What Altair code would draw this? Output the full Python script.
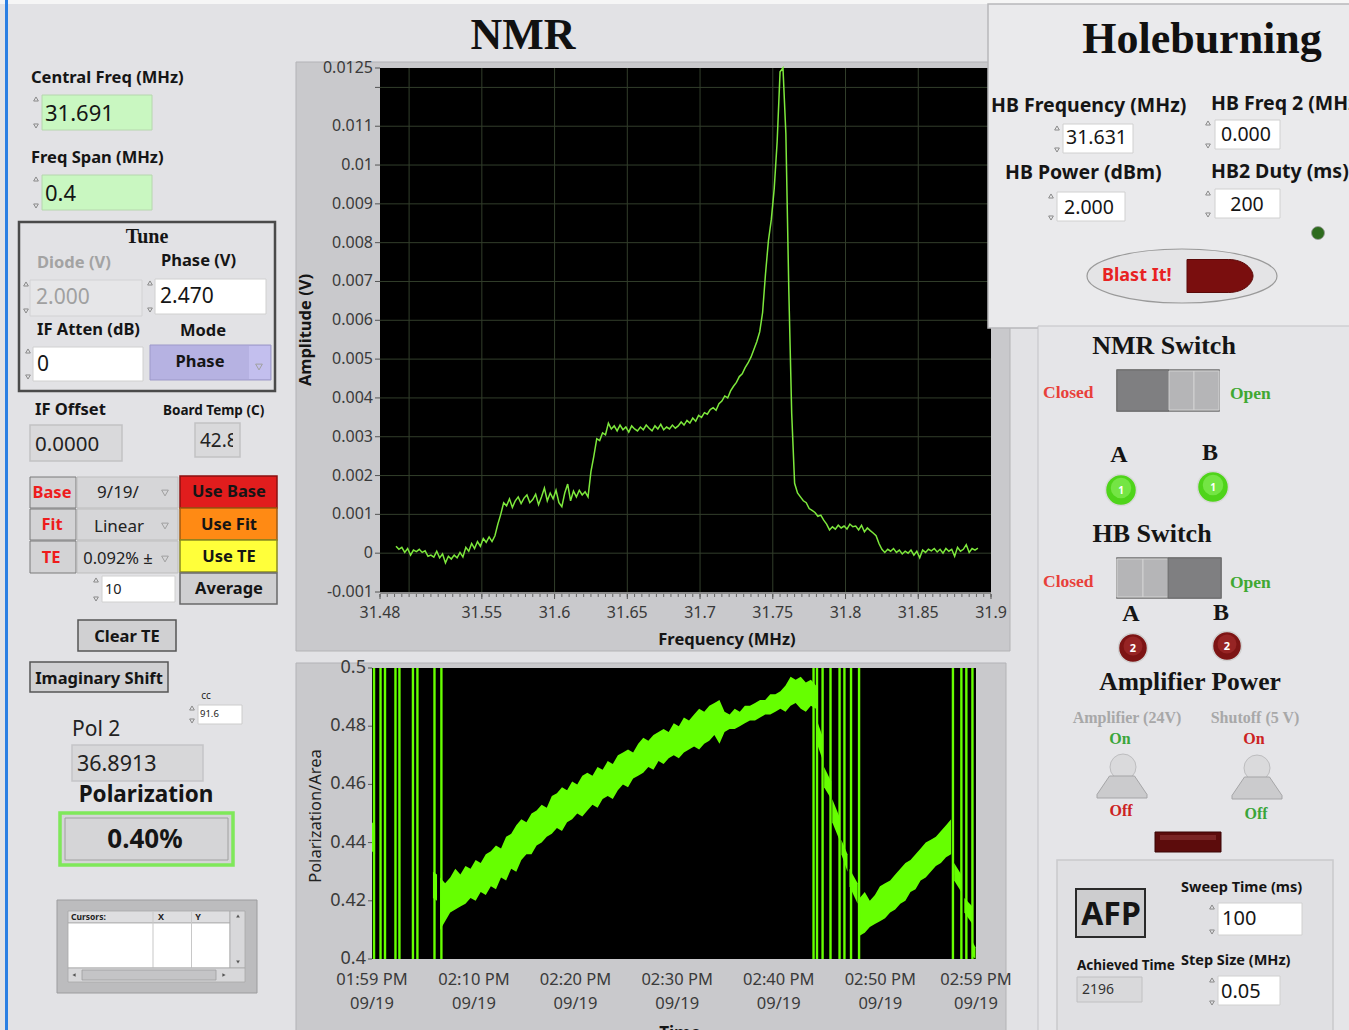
import altair as alt
import numpy as np
import pandas as pd

W, H = 1349, 1030
SANS = "Noto Sans"
SERIF = "Liberation Serif"
GRID = "#323e2b"
NMR_GREEN = "#7de83c"
POL_GREEN = "#66ff00"

# --------------------------------------------------------------------------
# NMR sweep: lock-in amplitude in mV, one reading every 2 kHz across the span
CENTER_FREQ_MHZ = 31.691
FREQ_SPAN_MHZ = 0.4
nmr_amplitude_mv = [
    0.18, 0.10, 0.15, 0.02, 0.12, -0.05, 0.08, 0.04, 0.10, 0.02,
    0.06, -0.08, -0.05, -0.10, 0.05, -0.12, -0.02, -0.25, -0.08, -0.15,
    -0.05, -0.12, 0.02, -0.10, 0.15, 0.05, 0.25, 0.12, 0.30, 0.18,
    0.38, 0.28, 0.42, 0.30, 0.45, 0.75, 1.00, 1.30, 1.22, 1.40,
    1.18, 1.35, 1.45, 1.28, 1.42, 1.50, 1.30, 1.38, 1.52, 1.25,
    1.45, 1.68, 1.35, 1.55, 1.40, 1.62, 1.30, 1.20, 1.55, 1.78,
    1.35, 1.60, 1.45, 1.62, 1.50, 1.58, 1.45, 2.10, 2.50, 2.95,
    2.90, 3.10, 3.05, 3.35, 3.20, 3.28, 3.15, 3.30, 3.18, 3.25,
    3.12, 3.28, 3.20, 3.15, 3.25, 3.18, 3.30, 3.22, 3.15, 3.28,
    3.20, 3.32, 3.18, 3.25, 3.20, 3.30, 3.22, 3.28, 3.38, 3.30,
    3.42, 3.35, 3.48, 3.40, 3.55, 3.50, 3.62, 3.58, 3.70, 3.75,
    3.68, 3.85, 3.92, 4.05, 4.00, 4.18, 4.30, 4.40, 4.55, 4.62,
    4.78, 4.90, 5.05, 5.25, 5.45, 5.70, 6.20, 7.20, 8.05, 8.60,
    9.40, 10.60, 12.40, 15.00, 10.80, 6.80, 3.60, 1.80, 1.55, 1.45,
    1.35, 1.30, 1.15, 1.10, 1.05, 0.95, 0.98, 0.85, 0.75, 0.60,
    0.68, 0.62, 0.72, 0.65, 0.70, 0.62, 0.75, 0.68, 0.70, 0.60,
    0.72, 0.55, 0.65, 0.58, 0.52, 0.45, 0.25, 0.10, 0.02, 0.10,
    0.05, 0.12, 0.02, 0.08, -0.02, 0.05, 0.00, 0.08, -0.05, 0.05,
    -0.12, 0.08, 0.02, 0.10, 0.06, 0.12, 0.03, 0.10, 0.00, 0.12,
    0.05, 0.10, -0.08, 0.15, 0.05, 0.10, 0.22, 0.02, 0.12, 0.08,
    0.13,
]
nmr_freq_ticks = [31.48, 31.55, 31.6, 31.65, 31.7, 31.75, 31.8, 31.85, 31.9]
nmr_freq_labels = ["31.48", "31.55", "31.6", "31.65", "31.7", "31.75", "31.8", "31.85", "31.9"]
nmr_freq_grid = [31.5, 31.55, 31.6, 31.65, 31.7, 31.75, 31.8, 31.85]
nmr_amp_ticks = [0.0125, 0.012, 0.011, 0.01, 0.009, 0.008, 0.007, 0.006, 0.005,
                 0.004, 0.003, 0.002, 0.001, 0.0, -0.001]
nmr_amp_labels = ["0.0125", "", "0.011", "0.01", "0.009", "0.008", "0.007", "0.006",
                  "0.005", "0.004", "0.003", "0.002", "0.001", "0", "-0.001"]
nmr_amp_grid = [0.0, 0.001, 0.002, 0.003, 0.004, 0.005, 0.006, 0.007, 0.008,
                0.009, 0.01, 0.011, 0.012]

# --------------------------------------------------------------------------
# Polarization history, minutes elapsed since the run started
RUN_START = "13:59:58"
run1_start_min, run1_step_min = 6.7, 0.5
pol_run1_lo = [
    0.410, 0.413, 0.416, 0.417, 0.418, 0.419, 0.421, 0.420, 0.423, 0.422,
    0.425, 0.424, 0.428, 0.427, 0.431, 0.430, 0.434, 0.436, 0.436, 0.439,
    0.440, 0.442, 0.443, 0.445, 0.444, 0.447, 0.448, 0.450, 0.449, 0.451,
    0.453, 0.452, 0.455, 0.456, 0.455, 0.458, 0.460, 0.459, 0.462, 0.463,
    0.464, 0.466, 0.465, 0.468, 0.467, 0.469, 0.470, 0.469, 0.471, 0.472,
    0.473, 0.472, 0.474, 0.475, 0.477, 0.474, 0.478, 0.479, 0.479, 0.480,
    0.481, 0.482, 0.482, 0.483, 0.484, 0.484, 0.485, 0.486, 0.485, 0.487,
    0.488, 0.486, 0.485, 0.487, 0.486,
]
pol_run1_hi = [
    0.428, 0.426, 0.428, 0.431, 0.429, 0.432, 0.431, 0.434, 0.433, 0.436,
    0.437, 0.439, 0.438, 0.442, 0.443, 0.446, 0.448, 0.447, 0.450, 0.451,
    0.453, 0.452, 0.456, 0.457, 0.459, 0.458, 0.461, 0.460, 0.463, 0.464,
    0.463, 0.466, 0.465, 0.468, 0.467, 0.470, 0.471, 0.472, 0.471, 0.474,
    0.476, 0.475, 0.477, 0.478, 0.479, 0.478, 0.481, 0.480, 0.483, 0.482,
    0.484, 0.486, 0.485, 0.487, 0.488, 0.489, 0.485, 0.484, 0.486, 0.485,
    0.487, 0.487, 0.488, 0.489, 0.489, 0.491, 0.491, 0.492, 0.494, 0.497,
    0.496, 0.497, 0.495, 0.496, 0.494,
]
run2_start_min, run2_step_min = 48.0, 0.5
pol_run2_lo = [0.408, 0.409, 0.411, 0.412, 0.413, 0.414, 0.416, 0.417, 0.419, 0.420,
               0.423, 0.424, 0.427, 0.428, 0.430, 0.432, 0.433, 0.435, 0.436]
pol_run2_hi = [0.421, 0.423, 0.420, 0.422, 0.425, 0.426, 0.427, 0.429, 0.431, 0.433,
               0.434, 0.436, 0.438, 0.440, 0.441, 0.442, 0.444, 0.446, 0.448]
# short stretches between dropouts: (stretch, minute, low, high)
pol_fragments = [
    ("a", 0.0, 0.437, 0.447), ("a", 0.3, 0.436, 0.446),
    ("b", 6.0, 0.421, 0.430), ("b", 6.4, 0.420, 0.429),
    ("c", 43.8, 0.474, 0.482), ("c", 44.3, 0.469, 0.477),
    ("d", 44.5, 0.459, 0.466), ("d", 45.2, 0.455, 0.461),
    ("e", 45.3, 0.447, 0.455), ("e", 46.0, 0.441, 0.449),
    ("f", 46.2, 0.436, 0.441), ("f", 46.8, 0.430, 0.436),
    ("g", 47.0, 0.425, 0.431), ("g", 47.8, 0.419, 0.426),
    ("h", 57.3, 0.427, 0.433), ("h", 58.0, 0.423, 0.429),
    ("i", 58.3, 0.416, 0.421), ("i", 59.1, 0.412, 0.418),
    ("j", 59.1, 0.401, 0.406), ("j", 59.4, 0.400, 0.404),
]
# readings that dropped off scale (full-height spikes)
pol_dropouts_min = [0.2, 0.84, 1.28, 2.31, 2.70, 4.03, 4.47, 6.15, 6.83,
                    43.46, 43.8, 44.35, 45.13, 46.02, 46.5, 47.15, 47.94,
                    57.18, 58.01, 58.5, 59.1]
pol_tick_clock = ["13:59:58", "14:10:00", "14:20:00", "14:30:00", "14:40:00", "14:50:00", "14:59:25"]
pol_tick_time_labels = ["01:59 PM", "02:10 PM", "02:20 PM", "02:30 PM", "02:40 PM", "02:50 PM", "02:59 PM"]
pol_tick_date_labels = ["09/19"] * 7
pol_val_ticks = [0.5, 0.48, 0.46, 0.44, 0.42, 0.4]
pol_val_labels = ["0.5", "0.48", "0.46", "0.44", "0.42", "0.4"]


def clock_to_min(hms):
    h, m, s = (int(v) for v in hms.split(":"))
    h0, m0, s0 = (int(v) for v in RUN_START.split(":"))
    return ((h * 3600 + m * 60 + s) - (h0 * 3600 + m0 * 60 + s0)) / 60.0


# --------------------------------------------------------------------------
# scales: each plot maps its data onto its own pixel window of the panel
nmr_x = alt.Scale(domain=[31.48, 31.9], range=[380, 991], zero=False, nice=False)
nmr_y = alt.Scale(domain=[-0.001, 0.0125], range=[592, 68], zero=False, nice=False, clamp=True)
pol_x = alt.Scale(domain=[0, clock_to_min(pol_tick_clock[-1])], range=[372, 976], zero=False, nice=False)
pol_y = alt.Scale(domain=[0.4, 0.5], range=[959, 668], zero=False, nice=False)


def PX(f):
    return alt.X(f"{f}:Q", scale=None, axis=None)


def PY(f):
    return alt.Y(f"{f}:Q", scale=None, axis=None)


def rect_layer(rows):
    df = pd.DataFrame(rows, columns=["x", "x2", "y", "y2", "fill", "stroke", "sw"])
    return alt.Chart(df).mark_rect().encode(
        x=PX("x"), x2="x2:Q", y=PY("y"), y2="y2:Q",
        fill=alt.Fill("fill:N", scale=None, legend=None),
        stroke=alt.Stroke("stroke:N", scale=None, legend=None),
        strokeWidth=alt.StrokeWidth("sw:Q", scale=None, legend=None),
    )


N = "transparent"
frame_rects = [
    (0, W, 0, 4, "#f6f6f6", N, 0),
    (5, 8, 0, H, "#2b7fe3", N, 0),
    (296, 1010, 62, 651, "#c9c9cc", "#b3b3b6", 1),
    (296, 1006, 663, 1031, "#c9c9cc", "#b3b3b6", 1),
    (380, 991, 68, 592, "#000000", N, 0),
    (372, 976, 668, 959, "#000000", N, 0),
    (380, 991, 592, 594, "#8a8a8a", N, 0),
]

panel_rects = [
    # right-hand panels
    (988, W + 2, 4, 328, "#eaeaec", "#b8b8bb", 1.5),
    (1038, W + 2, 326, H + 2, "#e5e5e8", "#c3c3c6", 1),
    (1057, 1333, 860, H + 2, "#e0e0e3", "#c9c9cc", 1.5),
    # left controls
    (42, 152, 95, 130, "#c9f7c1", "#b6d6ae", 1),
    (42, 152, 175, 210, "#c9f7c1", "#b6d6ae", 1),
    (19, 275, 222, 391, N, "#4a4a4a", 2.5),
    (30, 142, 280, 316, "#e6e6e8", "#d2d2d4", 1),
    (155, 266, 279, 314, "#ffffff", "#d0d0d0", 1),
    (33, 143, 347, 381, "#ffffff", "#d0d0d0", 1),
    (150, 271, 345, 380, "#b6b2e2", "#9d99c9", 1),
    (249, 270, 346, 379, "#c3bfee", N, 0),
    (30, 122, 425, 461, "#d9d9db", "#c2c2c4", 1.5),
    (195, 240, 423, 457, "#d9d9db", "#c2c2c4", 1.5),
    (30, 76, 477, 508, "#d3d3d5", "#7a7a7a", 1),
    (77, 178, 477, 508, "#d6d6d8", "#bdbdbd", 1),
    (180, 277, 476, 508, "#e11d1d", "#8a1010", 1.5),
    (30, 76, 509, 540, "#d3d3d5", "#7a7a7a", 1),
    (77, 178, 509, 540, "#d6d6d8", "#bdbdbd", 1),
    (180, 277, 508, 540, "#ff8a14", "#a05a10", 1.5),
    (30, 76, 541, 573, "#d3d3d5", "#7a7a7a", 1),
    (77, 178, 541, 573, "#d6d6d8", "#bdbdbd", 1),
    (180, 277, 540, 572, "#ffff3a", "#8a8a20", 1.5),
    (102, 175, 576, 602, "#ffffff", "#d0d0d0", 1),
    (180, 277, 573, 604, "#cfcfd1", "#6a6a6a", 1.5),
    (78, 176, 620, 651, "#d0d0d2", "#555555", 1.5),
    (30, 168, 662, 692, "#d0d0d2", "#555555", 1.5),
    (198, 242, 705, 724, "#ffffff", "#cccccc", 1),
    (72, 203, 745, 781, "#d7d7d9", "#c5c5c7", 1.5),
    (60, 233, 813, 865, "#d5d5d7", "#7fe85a", 3.5),
    (65, 228, 818, 860, "#d5d5d7", "#a0a0a0", 1),
    (57, 257, 900, 993, "#bcbcbe", "#9c9c9e", 1),
    (68, 230, 911, 923, "#dedee0", "#a8a8a8", 0.8),
    (68, 230, 923, 968, "#ffffff", "#a8a8a8", 0.8),
    (152.5, 153.5, 911, 968, "#c8c8c8", N, 0),
    (191, 192, 911, 968, "#c8c8c8", N, 0),
    (230, 245, 911, 968, "#d8d8da", "#a8a8a8", 0.8),
    (68, 245, 968, 982, "#d8d8da", "#a8a8a8", 0.8),
    (82, 216, 970, 980, "#c4c4c6", "#a0a0a0", 0.8),
    # holeburning controls
    (1063, 1133, 124, 153, "#ffffff", "#d0d0d0", 1),
    (1215, 1280, 120, 149, "#ffffff", "#d0d0d0", 1),
    (1057, 1125, 192, 221, "#ffffff", "#d0d0d0", 1),
    (1215, 1280, 189, 218, "#ffffff", "#d0d0d0", 1),
    # switches
    (1117, 1219, 370, 411, "#b5b5b7", "#6d6d6d", 1.5),
    (1117, 1169, 370, 411, "#7f7f81", "#6d6d6d", 1),
    (1169, 1194, 371, 410, "#b5b5b7", "#d2d2d2", 1),
    (1194, 1219, 371, 410, "#b5b5b7", "#d2d2d2", 1),
    (1117, 1221, 558, 598, "#b5b5b7", "#6d6d6d", 1.5),
    (1117, 1143, 559, 597, "#b5b5b7", "#d2d2d2", 1),
    (1143, 1168, 559, 597, "#b5b5b7", "#d2d2d2", 1),
    (1168, 1221, 558, 598, "#7f7f81", "#6d6d6d", 1),
    (1155, 1221, 832, 852, "#5c0c0c", "#3a0505", 1),
    (1160, 1216, 835, 840, "#7a2424", N, 0),
    # AFP section
    (1076, 1145, 889, 937, "#cdcdcf", "#2a2a2a", 2),
    (1218, 1302, 903, 935, "#ffffff", "#d0d0d0", 1),
    (1077, 1142, 977, 1002, "#d9d9db", "#c0c0c2", 1),
    (1218, 1280, 976, 1005, "#ffffff", "#d0d0d0", 1),
]

layers = [rect_layer(frame_rects)]

# ---- NMR grid
layers.append(alt.Chart(pd.DataFrame({"f": nmr_freq_grid})).mark_rule(color=GRID, strokeWidth=1).encode(
    x=alt.X("f:Q", scale=nmr_x, axis=None), y=alt.value(68), y2=alt.value(592)))
layers.append(alt.Chart(pd.DataFrame({"a": nmr_amp_grid})).mark_rule(color=GRID, strokeWidth=1).encode(
    y=alt.Y("a:Q", scale=nmr_y, axis=None), x=alt.value(380), x2=alt.value(991)))

layers.append(rect_layer(panel_rects))

# ---- round indicators
circles = pd.DataFrame([
    (1318, 233, 169, "#2e6b1e", "#9a9a9a", 0.8),
    (1121, 490, 961, "#4fd41a", "#d8d8d8", 1.5),
    (1213, 487, 961, "#4fd41a", "#d8d8d8", 1.5),
    (1121, 488, 420, "#74e544", N, 0),
    (1213, 485, 420, "#74e544", N, 0),
    (1133, 648, 841, "#7d1414", "#d0d0d0", 1.5),
    (1227, 646, 841, "#7d1414", "#d0d0d0", 1.5),
    (1133, 646, 360, "#962424", N, 0),
    (1227, 644, 360, "#962424", N, 0),
    (1123, 767, 676, "#dadadc", "#bdbdbf", 1),
    (1257, 768, 676, "#dadadc", "#bdbdbf", 1),
], columns=["x", "y", "size", "fill", "stroke", "sw"])
layers.append(alt.Chart(circles).mark_circle(opacity=1).encode(
    x=PX("x"), y=PY("y"),
    size=alt.Size("size:Q", scale=None, legend=None),
    fill=alt.Fill("fill:N", scale=None, legend=None),
    stroke=alt.Stroke("stroke:N", scale=None, legend=None),
    strokeWidth=alt.StrokeWidth("sw:Q", scale=None, legend=None)))

ELLIPSE = ("M -1 0 C -1 -0.157 -0.552 -0.284 0 -0.284 C 0.552 -0.284 1 -0.157 1 0 "
           "C 1 0.157 0.552 0.284 0 0.284 C -0.552 0.284 -1 0.157 -1 0 Z")
BULLET = "M -1 -0.5 L 0.25 -0.5 C 0.75 -0.5 1 -0.2 1 0 C 1 0.2 0.75 0.5 0.25 0.5 L -1 0.5 Z"
TOGGLE = "M -0.5 -0.44 L 0.5 -0.44 L 1 0.3 L 1 0.44 L -1 0.44 L -1 0.3 Z"


def shape_layer(path, pts, size, fill, stroke, sw):
    df = pd.DataFrame(pts, columns=["x", "y"])
    return alt.Chart(df).mark_point(shape=path, filled=True, opacity=1, size=size, fill=fill,
                                    stroke=stroke, strokeWidth=sw).encode(x=PX("x"), y=PY("y"))


layers.append(shape_layer(ELLIPSE, [(1182, 276)], 190 * 190, "#e4e4e6", "#9a9a9a", 1.2))
layers.append(shape_layer(BULLET, [(1220, 276)], 66 * 66, "#7a0e0e", "#5a0808", 1))
layers.append(shape_layer(TOGGLE, [(1122, 787), (1257, 788)], 50 * 50, "#cbcbcd", "#a5a5a7", 1))

spin_up = [(36, 99), (36, 179), (26, 284), (150, 283), (28, 351), (96, 580), (192, 708),
           (1057, 128), (1208, 123), (1051, 196), (1208, 193), (1212, 907), (1212, 980)]
spin_dn = [(36, 126), (36, 206), (26, 311), (150, 310), (28, 377), (96, 599), (192, 721),
           (1057, 150), (1208, 146), (1051, 218), (1208, 215), (1212, 932), (1212, 1003)]
layers.append(alt.Chart(pd.DataFrame(spin_up, columns=["x", "y"])).mark_point(
    shape="triangle-up", size=22, filled=False, stroke="#8a8a8a", strokeWidth=1, opacity=1).encode(x=PX("x"), y=PY("y")))
layers.append(alt.Chart(pd.DataFrame(spin_dn, columns=["x", "y"])).mark_point(
    shape="triangle-down", size=22, filled=False, stroke="#8a8a8a", strokeWidth=1, opacity=1).encode(x=PX("x"), y=PY("y")))
layers.append(alt.Chart(pd.DataFrame([(165, 493), (165, 526), (165, 559), (259, 367)], columns=["x", "y"])).mark_point(
    shape="triangle-down", size=45, filled=False, stroke="#a0a0a0", strokeWidth=1, opacity=1).encode(x=PX("x"), y=PY("y")))
for shp, pts in [("triangle-up", [(238, 916)]), ("triangle-down", [(238, 962)]),
                 ("triangle-left", [(74, 975)]), ("triangle-right", [(224, 975)])]:
    layers.append(alt.Chart(pd.DataFrame(pts, columns=["x", "y"])).mark_point(
        shape=shp, size=14, filled=True, fill="#555555", opacity=1).encode(x=PX("x"), y=PY("y")))

# ---- NMR trace
freq = np.linspace(CENTER_FREQ_MHZ - FREQ_SPAN_MHZ / 2, CENTER_FREQ_MHZ + FREQ_SPAN_MHZ / 2, len(nmr_amplitude_mv))
nmr_df = pd.DataFrame({"f": freq, "a": np.array(nmr_amplitude_mv) / 1000.0})
layers.append(alt.Chart(nmr_df).mark_line(color=NMR_GREEN, strokeWidth=1.5).encode(
    x=alt.X("f:Q", scale=nmr_x, axis=None), y=alt.Y("a:Q", scale=nmr_y, axis=None)))

# ---- polarization trace
band_rows = []
for i, (lo, hi) in enumerate(zip(pol_run1_lo, pol_run1_hi)):
    band_rows.append(("run1", run1_start_min + i * run1_step_min, lo, hi))
for i, (lo, hi) in enumerate(zip(pol_run2_lo, pol_run2_hi)):
    band_rows.append(("run2", run2_start_min + i * run2_step_min, lo, hi))
band_rows += pol_fragments
band_df = pd.DataFrame(band_rows, columns=["seg", "t", "lo", "hi"])
layers.append(alt.Chart(band_df).mark_area(color=POL_GREEN, opacity=1).encode(
    x=alt.X("t:Q", scale=pol_x, axis=None),
    y=alt.Y("lo:Q", scale=pol_y, axis=None), y2="hi:Q", detail="seg:N"))
drop_df = pd.DataFrame({"t": pol_dropouts_min, "lo": 0.4, "hi": 0.5})
layers.append(alt.Chart(drop_df).mark_rule(color=POL_GREEN, strokeWidth=2.4).encode(
    x=alt.X("t:Q", scale=pol_x, axis=None), y=alt.Y("lo:Q", scale=pol_y, axis=None), y2="hi:Q"))

# ---- NMR axes
AX = "#3a3a3a"
amp_df = pd.DataFrame({"v": nmr_amp_ticks, "lab": nmr_amp_labels})
layers.append(alt.Chart(amp_df).mark_rule(color="#555555").encode(
    y=alt.Y("v:Q", scale=nmr_y, axis=None), x=alt.value(375), x2=alt.value(380)))
layers.append(alt.Chart(amp_df).mark_text(align="right", baseline="middle", font=SANS, fontSize=16, color=AX).encode(
    y=alt.Y("v:Q", scale=nmr_y, axis=None), x=alt.value(373), text="lab:N"))
minor_f = np.round(np.arange(31.48, 31.9001, 0.005), 3)
layers.append(alt.Chart(pd.DataFrame({"f": minor_f})).mark_rule(color="#666666").encode(
    x=alt.X("f:Q", scale=nmr_x, axis=None), y=alt.value(594), y2=alt.value(597)))
fq_df = pd.DataFrame({"f": nmr_freq_ticks, "lab": nmr_freq_labels})
layers.append(alt.Chart(fq_df).mark_rule(color="#555555").encode(
    x=alt.X("f:Q", scale=nmr_x, axis=None), y=alt.value(594), y2=alt.value(599)))
layers.append(alt.Chart(fq_df).mark_text(align="center", baseline="middle", font=SANS, fontSize=16, color=AX).encode(
    x=alt.X("f:Q", scale=nmr_x, axis=None), y=alt.value(613), text="lab:N"))

# ---- polarization axes
pv_df = pd.DataFrame({"v": pol_val_ticks, "lab": pol_val_labels})
layers.append(alt.Chart(pv_df).mark_rule(color="#555555").encode(
    y=alt.Y("v:Q", scale=pol_y, axis=None), x=alt.value(368), x2=alt.value(372)))
layers.append(alt.Chart(pv_df).mark_text(align="right", baseline="middle", font=SANS, fontSize=18, color=AX).encode(
    y=alt.Y("v:Q", scale=pol_y, axis=None), x=alt.value(366), text="lab:N"))
pt_df = pd.DataFrame({"t": [clock_to_min(c) for c in pol_tick_clock],
                      "tl": pol_tick_time_labels, "dl": pol_tick_date_labels})
layers.append(alt.Chart(pt_df).mark_text(align="center", baseline="middle", font=SANS, fontSize=16.5, color=AX).encode(
    x=alt.X("t:Q", scale=pol_x, axis=None), y=alt.value(980), text="tl:N"))
layers.append(alt.Chart(pt_df).mark_text(align="center", baseline="middle", font=SANS, fontSize=16.5, color=AX).encode(
    x=alt.X("t:Q", scale=pol_x, axis=None), y=alt.value(1004), text="dl:N"))

# ---- panel text
texts = [
    ("sc", 523, 36, "NMR", 44, "#111111"),
    ("sc", 1202, 40, "Holeburning", 44, "#111111"),
    ("b", 31, 78, "Central Freq (MHz)", 16.5, "#151515"),
    ("n", 45, 114, "31.691", 22, "#151515"),
    ("b", 31, 158, "Freq Span (MHz)", 16.5, "#151515"),
    ("n", 45, 194, "0.4", 22, "#151515"),
    ("sc", 147, 237, "Tune", 20, "#151515"),
    ("b", 37, 263, "Diode (V)", 16.5, "#a3a3a3"),
    ("b", 161, 261, "Phase (V)", 16.5, "#151515"),
    ("n", 36, 298, "2.000", 21, "#a0a0a0"),
    ("n", 160, 297, "2.470", 21, "#151515"),
    ("b", 37, 330, "IF Atten (dB)", 16.5, "#151515"),
    ("bc", 203, 331, "Mode", 16.5, "#151515"),
    ("n", 37, 365, "0", 21, "#151515"),
    ("bc", 200, 362, "Phase", 16.5, "#151515"),
    ("b", 35, 410, "IF Offset", 16.5, "#151515"),
    ("b", 163, 411, "Board Temp (C)", 13.5, "#151515"),
    ("n", 35, 445, "0.0000", 20.5, "#222222"),
    ("n", 200, 441, "42.8", 19, "#222222"),
    ("bc", 52, 493, "Base", 16.5, "#ee1c1c"),
    ("nc", 118, 493, "9/19/", 17, "#222222"),
    ("bc", 229, 492, "Use Base", 16.5, "#151515"),
    ("bc", 52, 525, "Fit", 16.5, "#ee1c1c"),
    ("nc", 119, 527, "Linear", 17, "#222222"),
    ("bc", 229, 525, "Use Fit", 16.5, "#151515"),
    ("bc", 51, 558, "TE", 16.5, "#ee1c1c"),
    ("nc", 118, 559, "0.092% \u00b1", 16.5, "#222222"),
    ("bc", 229, 557, "Use TE", 16.5, "#151515"),
    ("n", 105, 590, "10", 14.5, "#222222"),
    ("bc", 229, 589, "Average", 16.5, "#151515"),
    ("bc", 127, 637, "Clear TE", 16.5, "#151515"),
    ("bc", 99, 679, "Imaginary Shift", 16.5, "#151515"),
    ("nc", 206, 696, "cc", 10, "#222222"),
    ("n", 200, 714, "91.6", 9.5, "#222222"),
    ("n", 72, 730, "Pol 2", 21, "#222222"),
    ("n", 77, 765, "36.8913", 21.5, "#222222"),
    ("bc", 146, 795, "Polarization", 22.5, "#151515"),
    ("bc", 145, 840, "0.40%", 26, "#151515"),
    ("b", 71, 917, "Cursors:", 8.5, "#222222"),
    ("bc", 161, 917, "X", 9, "#222222"),
    ("bc", 198, 917, "Y", 9, "#222222"),
    ("b", 991, 106, "HB Frequency (MHz)", 19.5, "#151515"),
    ("b", 1211, 104, "HB Freq 2 (MHz)", 19.5, "#151515"),
    ("n", 1066, 138, "31.631", 19.5, "#151515"),
    ("n", 1221, 135, "0.000", 19.5, "#151515"),
    ("b", 1005, 173, "HB Power (dBm)", 19.5, "#151515"),
    ("b", 1211, 172, "HB2 Duty (ms)", 19.5, "#151515"),
    ("n", 1064, 208, "2.000", 19.5, "#151515"),
    ("nc", 1247, 205, "200", 19.5, "#151515"),
    ("b", 1102, 276, "Blast It!", 18, "#e82222"),
    ("sc", 1164, 346, "NMR Switch", 26, "#151515"),
    ("sl", 1043, 393, "Closed", 17.5, "#e8403a"),
    ("sl", 1230, 394, "Open", 17.5, "#40a832"),
    ("sc", 1119, 455, "A", 24, "#151515"),
    ("sc", 1210, 453, "B", 24, "#151515"),
    ("sc", 1152, 534, "HB Switch", 26, "#151515"),
    ("sl", 1043, 582, "Closed", 17.5, "#e8403a"),
    ("sl", 1230, 583, "Open", 17.5, "#40a832"),
    ("sc", 1131, 614, "A", 24, "#151515"),
    ("sc", 1221, 613, "B", 24, "#151515"),
    ("bc", 1121, 491, "1", 10, "#ffffff"),
    ("bc", 1213, 488, "1", 10, "#ffffff"),
    ("bc", 1133, 649, "2", 11, "#ffffff"),
    ("bc", 1227, 647, "2", 11, "#ffffff"),
    ("sc", 1190, 682, "Amplifier Power", 25.5, "#151515"),
    ("sc", 1127, 718, "Amplifier (24V)", 16, "#a8a8a8"),
    ("sc", 1255, 718, "Shutoff (5 V)", 16, "#a8a8a8"),
    ("sc", 1120, 739, "On", 16, "#3aa53a"),
    ("sc", 1254, 739, "On", 16, "#cc2222"),
    ("sc", 1121, 811, "Off", 16, "#cc2222"),
    ("sc", 1256, 814, "Off", 16, "#3aa53a"),
    ("bc", 1111, 915, "AFP", 32, "#151515"),
    ("b", 1181, 888, "Sweep Time (ms)", 14.5, "#151515"),
    ("n", 1222, 919, "100", 20, "#151515"),
    ("b", 1077, 966, "Achieved Time", 13.5, "#151515"),
    ("b", 1181, 961, "Step Size (MHz)", 14.5, "#151515"),
    ("n", 1082, 990, "2196", 14, "#333333"),
    ("n", 1221, 992, "0.05", 20, "#151515"),
    ("bc", 727, 640, "Frequency (MHz)", 16.5, "#151515"),
    ("bc", 680, 1034, "Time", 17, "#151515"),
]
text_df = pd.DataFrame(texts, columns=["g", "x", "y", "t", "s", "c"])
styles = {
    "b": (SANS, "bold", "left"), "bc": (SANS, "bold", "center"),
    "n": (SANS, "normal", "left"), "nc": (SANS, "normal", "center"),
    "sc": (SERIF, "bold", "center"), "sl": (SERIF, "bold", "left"),
}
for g, (font, weight, align) in styles.items():
    sub = text_df[text_df["g"] == g].reset_index(drop=True)
    layers.append(alt.Chart(sub).mark_text(font=font, fontWeight=weight, align=align, baseline="middle").encode(
        x=PX("x"), y=PY("y"), text="t:N",
        size=alt.Size("s:Q", scale=None, legend=None),
        color=alt.Color("c:N", scale=None, legend=None)))

rot = pd.DataFrame([(306, 330, "Amplitude (V)", "bold"), (316, 816, "Polarization/Area", "normal")],
                   columns=["x", "y", "t", "w"])
layers.append(alt.Chart(rot[rot.w == "bold"]).mark_text(font=SANS, fontWeight="bold", fontSize=16.5, angle=270,
                                                        align="center", baseline="middle", color="#151515").encode(
    x=PX("x"), y=PY("y"), text="t:N"))
layers.append(alt.Chart(rot[rot.w == "normal"].reset_index(drop=True)).mark_text(
    font=SANS, fontSize=16.5, angle=270, align="center", baseline="middle", color="#222222").encode(
    x=PX("x"), y=PY("y"), text="t:N"))

# the board-temperature display is narrower than its reading
layers.append(rect_layer([(233, 239, 425, 456, "#d9d9db", N, 0)]))

chart = alt.layer(*layers).resolve_scale(x="independent", y="independent").properties(
    width=W, height=H, padding=0, background="#e2e2e5",
    autosize=alt.AutoSizeParams(type="none"),
).configure_view(stroke=None)

chart.save("out.html", embed_options={"renderer": "svg", "actions": False})
